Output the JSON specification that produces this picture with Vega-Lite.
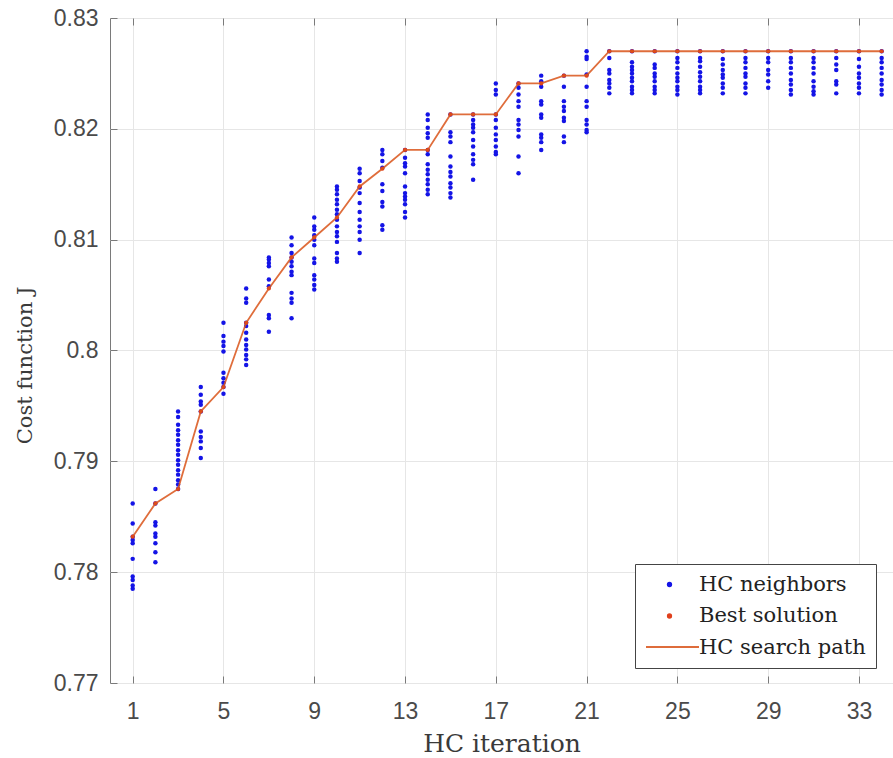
{
  "$schema": "https://vega.github.io/schema/vega-lite/v6.json",
  "autosize": {"type": "none"},
  "width": 783,
  "height": 665,
  "padding": {"left": 110, "top": 18, "right": 0, "bottom": 75},
  "background": "white",
  "datasets": {
    "neighbors": [
      {"i":1,"J":0.7862},{"i":1,"J":0.7844},{"i":1,"J":0.7832},{"i":1,"J":0.7829},{"i":1,"J":0.7826},{"i":1,"J":0.7812},{"i":1,"J":0.7796},{"i":1,"J":0.7793},{"i":1,"J":0.7788},{"i":1,"J":0.7785},
      {"i":2,"J":0.7875},{"i":2,"J":0.7862},{"i":2,"J":0.7845},{"i":2,"J":0.7842},{"i":2,"J":0.7835},{"i":2,"J":0.7832},{"i":2,"J":0.7826},{"i":2,"J":0.7818},{"i":2,"J":0.7809},
      {"i":3,"J":0.7945},{"i":3,"J":0.7940},{"i":3,"J":0.7933},{"i":3,"J":0.7928},{"i":3,"J":0.7924},{"i":3,"J":0.7919},{"i":3,"J":0.7915},{"i":3,"J":0.7910},{"i":3,"J":0.7906},{"i":3,"J":0.7901},{"i":3,"J":0.7897},{"i":3,"J":0.7892},{"i":3,"J":0.7888},{"i":3,"J":0.7883},{"i":3,"J":0.7879},{"i":3,"J":0.7875},
      {"i":4,"J":0.7967},{"i":4,"J":0.7960},{"i":4,"J":0.7954},{"i":4,"J":0.7951},{"i":4,"J":0.7945},{"i":4,"J":0.7927},{"i":4,"J":0.7922},{"i":4,"J":0.7918},{"i":4,"J":0.7912},{"i":4,"J":0.7903},
      {"i":5,"J":0.8025},{"i":5,"J":0.8013},{"i":5,"J":0.8008},{"i":5,"J":0.8004},{"i":5,"J":0.7999},{"i":5,"J":0.7980},{"i":5,"J":0.7975},{"i":5,"J":0.7971},{"i":5,"J":0.7967},{"i":5,"J":0.7961},
      {"i":6,"J":0.8056},{"i":6,"J":0.8047},{"i":6,"J":0.8043},{"i":6,"J":0.8025},{"i":6,"J":0.8022},{"i":6,"J":0.8016},{"i":6,"J":0.8010},{"i":6,"J":0.8005},{"i":6,"J":0.8001},{"i":6,"J":0.7996},{"i":6,"J":0.7992},{"i":6,"J":0.7987},
      {"i":7,"J":0.8084},{"i":7,"J":0.8082},{"i":7,"J":0.8079},{"i":7,"J":0.8076},{"i":7,"J":0.8064},{"i":7,"J":0.8058},{"i":7,"J":0.8032},{"i":7,"J":0.8029},{"i":7,"J":0.8017},
      {"i":8,"J":0.8102},{"i":8,"J":0.8095},{"i":8,"J":0.8088},{"i":8,"J":0.8084},{"i":8,"J":0.8080},{"i":8,"J":0.8076},{"i":8,"J":0.8071},{"i":8,"J":0.8068},{"i":8,"J":0.8052},{"i":8,"J":0.8047},{"i":8,"J":0.8043},{"i":8,"J":0.8029},
      {"i":9,"J":0.8120},{"i":9,"J":0.8112},{"i":9,"J":0.8109},{"i":9,"J":0.8104},{"i":9,"J":0.8100},{"i":9,"J":0.8095},{"i":9,"J":0.8083},{"i":9,"J":0.8079},{"i":9,"J":0.8068},{"i":9,"J":0.8064},{"i":9,"J":0.8059},{"i":9,"J":0.8055},
      {"i":10,"J":0.8148},{"i":10,"J":0.8145},{"i":10,"J":0.8141},{"i":10,"J":0.8136},{"i":10,"J":0.8132},{"i":10,"J":0.8127},{"i":10,"J":0.8123},{"i":10,"J":0.8118},{"i":10,"J":0.8112},{"i":10,"J":0.8107},{"i":10,"J":0.8103},{"i":10,"J":0.8098},{"i":10,"J":0.8088},{"i":10,"J":0.8083},{"i":10,"J":0.8080},
      {"i":11,"J":0.8164},{"i":11,"J":0.8160},{"i":11,"J":0.8153},{"i":11,"J":0.8147},{"i":11,"J":0.8142},{"i":11,"J":0.8133},{"i":11,"J":0.8125},{"i":11,"J":0.8118},{"i":11,"J":0.8112},{"i":11,"J":0.8107},{"i":11,"J":0.8100},{"i":11,"J":0.8088},
      {"i":12,"J":0.8181},{"i":12,"J":0.8177},{"i":12,"J":0.8171},{"i":12,"J":0.8165},{"i":12,"J":0.8150},{"i":12,"J":0.8144},{"i":12,"J":0.8134},{"i":12,"J":0.8130},{"i":12,"J":0.8113},{"i":12,"J":0.8109},
      {"i":13,"J":0.8181},{"i":13,"J":0.8174},{"i":13,"J":0.8169},{"i":13,"J":0.8166},{"i":13,"J":0.8160},{"i":13,"J":0.8148},{"i":13,"J":0.8142},{"i":13,"J":0.8139},{"i":13,"J":0.8136},{"i":13,"J":0.8132},{"i":13,"J":0.8125},{"i":13,"J":0.8120},
      {"i":14,"J":0.8213},{"i":14,"J":0.8208},{"i":14,"J":0.8201},{"i":14,"J":0.8196},{"i":14,"J":0.8192},{"i":14,"J":0.8181},{"i":14,"J":0.8177},{"i":14,"J":0.8168},{"i":14,"J":0.8163},{"i":14,"J":0.8159},{"i":14,"J":0.8154},{"i":14,"J":0.8150},{"i":14,"J":0.8145},{"i":14,"J":0.8141},
      {"i":15,"J":0.8213},{"i":15,"J":0.8197},{"i":15,"J":0.8193},{"i":15,"J":0.8188},{"i":15,"J":0.8175},{"i":15,"J":0.8166},{"i":15,"J":0.8161},{"i":15,"J":0.8157},{"i":15,"J":0.8151},{"i":15,"J":0.8147},{"i":15,"J":0.8142},{"i":15,"J":0.8138},
      {"i":16,"J":0.8213},{"i":16,"J":0.8208},{"i":16,"J":0.8204},{"i":16,"J":0.8201},{"i":16,"J":0.8197},{"i":16,"J":0.8190},{"i":16,"J":0.8184},{"i":16,"J":0.8177},{"i":16,"J":0.8172},{"i":16,"J":0.8168},{"i":16,"J":0.8154},
      {"i":17,"J":0.8241},{"i":17,"J":0.8235},{"i":17,"J":0.8231},{"i":17,"J":0.8213},{"i":17,"J":0.8208},{"i":17,"J":0.8201},{"i":17,"J":0.8195},{"i":17,"J":0.8190},{"i":17,"J":0.8184},{"i":17,"J":0.8179},{"i":17,"J":0.8177},
      {"i":18,"J":0.8241},{"i":18,"J":0.8237},{"i":18,"J":0.8231},{"i":18,"J":0.8225},{"i":18,"J":0.8220},{"i":18,"J":0.8208},{"i":18,"J":0.8204},{"i":18,"J":0.8199},{"i":18,"J":0.8193},{"i":18,"J":0.8175},{"i":18,"J":0.8160},
      {"i":19,"J":0.8248},{"i":19,"J":0.8243},{"i":19,"J":0.8238},{"i":19,"J":0.8225},{"i":19,"J":0.8222},{"i":19,"J":0.8213},{"i":19,"J":0.8210},{"i":19,"J":0.8195},{"i":19,"J":0.8192},{"i":19,"J":0.8188},{"i":19,"J":0.8181},
      {"i":20,"J":0.8248},{"i":20,"J":0.8238},{"i":20,"J":0.8225},{"i":20,"J":0.8220},{"i":20,"J":0.8216},{"i":20,"J":0.8210},{"i":20,"J":0.8207},{"i":20,"J":0.8193},{"i":20,"J":0.8188},
      {"i":21,"J":0.8270},{"i":21,"J":0.8265},{"i":21,"J":0.8263},{"i":21,"J":0.8249},{"i":21,"J":0.8238},{"i":21,"J":0.8225},{"i":21,"J":0.8220},{"i":21,"J":0.8208},{"i":21,"J":0.8204},{"i":21,"J":0.8199},{"i":21,"J":0.8197},
      {"i":22,"J":0.8270},{"i":22,"J":0.8264},{"i":22,"J":0.8253},{"i":22,"J":0.8250},{"i":22,"J":0.8244},{"i":22,"J":0.8241},{"i":22,"J":0.8237},{"i":22,"J":0.8232},
      {"i":23,"J":0.8270},{"i":23,"J":0.8260},{"i":23,"J":0.8256},{"i":23,"J":0.8253},{"i":23,"J":0.8250},{"i":23,"J":0.8246},{"i":23,"J":0.8243},{"i":23,"J":0.8238},{"i":23,"J":0.8235},{"i":23,"J":0.8232},
      {"i":24,"J":0.8270},{"i":24,"J":0.8258},{"i":24,"J":0.8255},{"i":24,"J":0.8250},{"i":24,"J":0.8247},{"i":24,"J":0.8243},{"i":24,"J":0.8238},{"i":24,"J":0.8235},{"i":24,"J":0.8232},
      {"i":25,"J":0.8270},{"i":25,"J":0.8264},{"i":25,"J":0.8260},{"i":25,"J":0.8255},{"i":25,"J":0.8250},{"i":25,"J":0.8246},{"i":25,"J":0.8243},{"i":25,"J":0.8238},{"i":25,"J":0.8235},{"i":25,"J":0.8231},
      {"i":26,"J":0.8270},{"i":26,"J":0.8264},{"i":26,"J":0.8261},{"i":26,"J":0.8256},{"i":26,"J":0.8251},{"i":26,"J":0.8247},{"i":26,"J":0.8243},{"i":26,"J":0.8238},{"i":26,"J":0.8235},{"i":26,"J":0.8232},
      {"i":27,"J":0.8270},{"i":27,"J":0.8263},{"i":27,"J":0.8258},{"i":27,"J":0.8253},{"i":27,"J":0.8249},{"i":27,"J":0.8246},{"i":27,"J":0.8241},{"i":27,"J":0.8237},{"i":27,"J":0.8232},
      {"i":28,"J":0.8270},{"i":28,"J":0.8264},{"i":28,"J":0.8260},{"i":28,"J":0.8255},{"i":28,"J":0.8250},{"i":28,"J":0.8247},{"i":28,"J":0.8241},{"i":28,"J":0.8237},{"i":28,"J":0.8232},
      {"i":29,"J":0.8270},{"i":29,"J":0.8264},{"i":29,"J":0.8260},{"i":29,"J":0.8253},{"i":29,"J":0.8249},{"i":29,"J":0.8243},{"i":29,"J":0.8237},
      {"i":30,"J":0.8270},{"i":30,"J":0.8264},{"i":30,"J":0.8260},{"i":30,"J":0.8255},{"i":30,"J":0.8250},{"i":30,"J":0.8244},{"i":30,"J":0.8240},{"i":30,"J":0.8235},{"i":30,"J":0.8231},
      {"i":31,"J":0.8270},{"i":31,"J":0.8264},{"i":31,"J":0.8260},{"i":31,"J":0.8255},{"i":31,"J":0.8250},{"i":31,"J":0.8243},{"i":31,"J":0.8238},{"i":31,"J":0.8234},{"i":31,"J":0.8231},
      {"i":32,"J":0.8270},{"i":32,"J":0.8264},{"i":32,"J":0.8258},{"i":32,"J":0.8253},{"i":32,"J":0.8243},{"i":32,"J":0.8240},{"i":32,"J":0.8232},
      {"i":33,"J":0.8270},{"i":33,"J":0.8263},{"i":33,"J":0.8256},{"i":33,"J":0.8250},{"i":33,"J":0.8246},{"i":33,"J":0.8241},{"i":33,"J":0.8237},{"i":33,"J":0.8232},
      {"i":34,"J":0.8270},{"i":34,"J":0.8264},{"i":34,"J":0.8260},{"i":34,"J":0.8255},{"i":34,"J":0.8250},{"i":34,"J":0.8244},{"i":34,"J":0.8240},{"i":34,"J":0.8235},{"i":34,"J":0.8231}
    ],
    "best": [
      {"i":1,"J":0.7832},{"i":2,"J":0.7862},{"i":3,"J":0.7875},{"i":4,"J":0.7945},{"i":5,"J":0.7967},
      {"i":6,"J":0.8025},{"i":7,"J":0.8056},{"i":8,"J":0.8084},{"i":9,"J":0.8102},{"i":10,"J":0.8120},
      {"i":11,"J":0.8148},{"i":12,"J":0.8164},{"i":13,"J":0.8181},{"i":14,"J":0.8181},{"i":15,"J":0.8213},
      {"i":16,"J":0.8213},{"i":17,"J":0.8213},{"i":18,"J":0.8241},{"i":19,"J":0.8241},{"i":20,"J":0.8248},
      {"i":21,"J":0.8248},{"i":22,"J":0.8270},{"i":23,"J":0.8270},{"i":24,"J":0.8270},{"i":25,"J":0.8270},
      {"i":26,"J":0.8270},{"i":27,"J":0.8270},{"i":28,"J":0.8270},{"i":29,"J":0.8270},{"i":30,"J":0.8270},
      {"i":31,"J":0.8270},{"i":32,"J":0.8270},{"i":33,"J":0.8270},{"i":34,"J":0.8270}
    ]
  },
  "config": {
    "view": {"stroke": "#7a7a7a", "strokeWidth": 1},
    "axis": {
      "domain": false,
      "grid": true,
      "gridColor": "#e6e6e6",
      "gridWidth": 1,
      "ticks": true,
      "tickColor": "#7a7a7a",
      "tickSize": -7,
      "labelFont": "Liberation Sans",
      "labelFontSize": 23,
      "labelColor": "#4a4a4a",
      "titleFont": "DejaVu Serif",
      "titleFontSize": 25,
      "titleFontWeight": "normal",
      "titleColor": "#3a3a3a"
    }
  },
  "resolve": {"axis": {"x": "independent"}},
  "layer": [
    {
      "data": {"name": "neighbors"},
      "mark": {"type": "point", "filled": true, "size": 20, "opacity": 1},
      "encoding": {
        "x": {
          "field": "i", "type": "quantitative",
          "scale": {"domain": [0, 34.5], "nice": false, "zero": false},
          "axis": {"values": [1, 5, 9, 13, 17, 21, 25, 29, 33], "title": "HC iteration", "labelPadding": 24, "titlePadding": 8}
        },
        "y": {
          "field": "J", "type": "quantitative",
          "scale": {"domain": [0.77, 0.83], "nice": false, "zero": false},
          "axis": {"values": [0.77, 0.78, 0.79, 0.8, 0.81, 0.82, 0.83], "format": ".2~f", "title": "Cost function J", "labelPadding": 19, "titlePadding": 18, "titleFontSize": 21, "titleY": 347}
        },
        "color": {
          "datum": "HC neighbors", "type": "nominal",
          "scale": {"domain": ["HC neighbors", "Best solution", "HC search path"], "range": ["#1414e6", "#e0401c", "transparent"]},
          "legend": {
            "title": null,
            "orient": "none",
            "legendX": 525,
            "legendY": 546,
            "padding": 10,
            "fillColor": "white",
            "strokeColor": "#444444",
            "labelFont": "DejaVu Serif",
            "labelFontSize": 21,
            "labelColor": "#222222",
            "labelLimit": 400,
            "rowPadding": 9.5,
            "symbolSize": 28,
            "symbolOffset": 14,
            "labelOffset": 19,
            "symbolStrokeWidth": 0
          }
        }
      }
    },
    {
      "data": {"name": "best"},
      "mark": {"type": "point", "filled": true, "size": 18, "opacity": 1},
      "encoding": {
        "x": {"field": "i", "type": "quantitative", "axis": null},
        "y": {"field": "J", "type": "quantitative"},
        "color": {"datum": "Best solution", "type": "nominal"}
      }
    },
    {
      "data": {"name": "best"},
      "mark": {"type": "line", "strokeWidth": 1.8, "opacity": 0.85},
      "encoding": {
        "x": {
          "field": "i", "type": "quantitative",
          "axis": {"orient": "top", "values": [1, 5, 9, 13, 17, 21, 25, 29, 33], "labels": false, "title": null, "grid": false, "tickSize": -7}
        },
        "y": {"field": "J", "type": "quantitative"},
        "stroke": {
          "datum": "HC search path", "type": "nominal",
          "scale": {"domain": ["HC search path"], "range": ["#d95319"]},
          "legend": {
            "title": null,
            "orient": "none",
            "legendX": 535,
            "legendY": 601.5,
            "padding": 0,
            "labelExpr": "''",
            "symbolType": "stroke",
            "symbolSize": 2809,
            "symbolStrokeWidth": 1.8,
            "symbolOffset": 0,
            "labelOffset": 0
          }
        }
      }
    }
  ]
}
